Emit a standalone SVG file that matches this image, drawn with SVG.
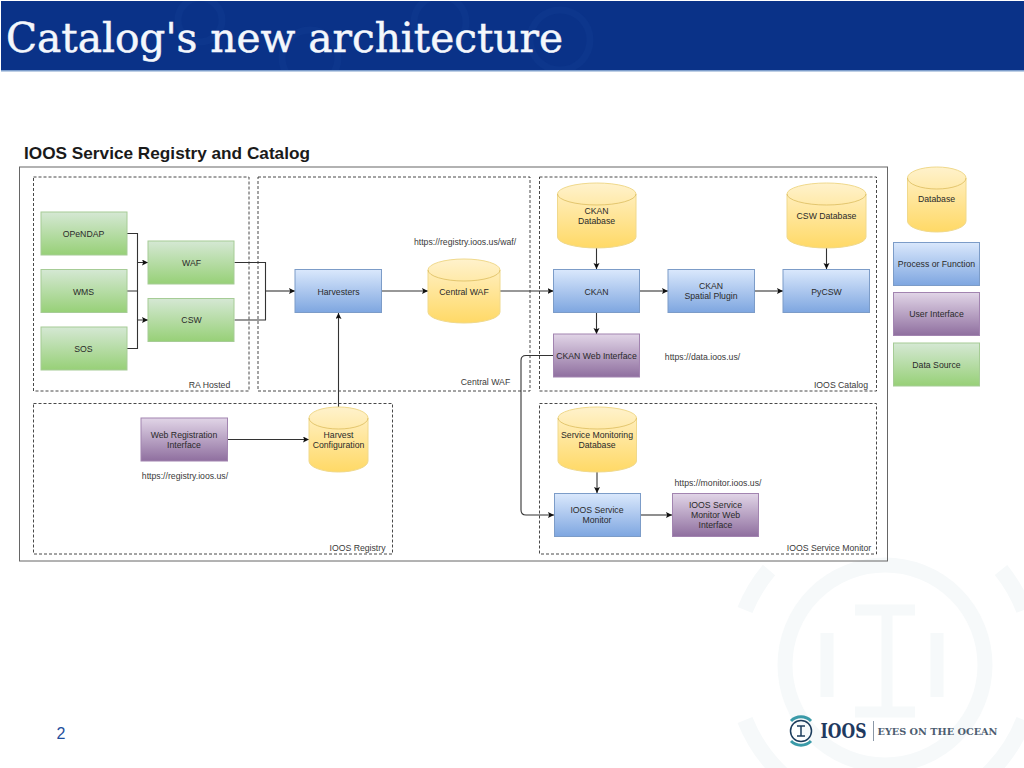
<svg xmlns="http://www.w3.org/2000/svg" width="1024" height="768" viewBox="0 0 1024 768">
<style>
text{font-family:"Liberation Sans",Arial,sans-serif;font-size:8.7px;fill:#2a2a2a;text-anchor:middle}
.lab{fill:#3a3a3a}
.g{fill:url(#gg);stroke:#a6cc96;stroke-width:1}
.b{fill:url(#gb);stroke:#7c9cc8;stroke-width:1}
.p{fill:url(#gp);stroke:#a284b0;stroke-width:1}
.y{fill:url(#gy);stroke:#f0d98c;stroke-width:1}
.yt{fill:none;stroke:#dcbc5e;stroke-width:.8}
.zone{fill:none;stroke:#333;stroke-width:.9;stroke-dasharray:3 2}
.c{fill:none;stroke:#333;stroke-width:1.1}
.a{marker-end:url(#ah)}
</style>
<defs>
<linearGradient id="gg" x1="0" y1="0" x2="0" y2="1"><stop offset="0" stop-color="#d5e8d4"/><stop offset="1" stop-color="#97d077"/></linearGradient>
<linearGradient id="gb" x1="0" y1="0" x2="0" y2="1"><stop offset="0" stop-color="#dae8fc"/><stop offset="1" stop-color="#7ea6e0"/></linearGradient>
<linearGradient id="gp" x1="0" y1="0" x2="0" y2="1"><stop offset="0" stop-color="#e1d5e7"/><stop offset="1" stop-color="#8f6f9f"/></linearGradient>
<linearGradient id="gy" x1="0" y1="0" x2="0" y2="1"><stop offset="0" stop-color="#fff2cc"/><stop offset="1" stop-color="#ffd966"/></linearGradient>
<clipPath id="hc"><rect x="1" y="1" width="1023" height="69"/></clipPath>
<marker id="ah" markerWidth="7" markerHeight="7" refX="6" refY="3" orient="auto" markerUnits="userSpaceOnUse"><path d="M0 0L6 3L0 6L1.2 3Z" fill="#111"/></marker>
</defs>
<rect width="1024" height="768" fill="#fff"/>
<g id="watermark" fill="none" stroke="#f6f9fa">
<circle cx="885" cy="665" r="100" stroke-width="15"/>
<path d="M855 610H915M887 610V712M855 712H915" stroke-width="11"/>
<path d="M827 633V697M937 633V697" stroke-width="13"/>
<path d="M745 610A150 150 0 0 1 769 570M1001 570A150 150 0 0 1 1024 610M745 720A150 150 0 0 0 790 781M1024 720A150 150 0 0 1 980 781" stroke-width="16"/>
</g>
<g id="header">
<rect x="1" y="1" width="1023" height="69" fill="#0a3288"/>
<g fill="none" stroke="#0d368c" stroke-width="7" clip-path="url(#hc)">
<circle cx="200" cy="20" r="22"/><circle cx="310" cy="58" r="28"/><circle cx="440" cy="22" r="26"/><circle cx="560" cy="40" r="30"/>
</g>
<rect x="1" y="70" width="1023" height="1.5" fill="#7f9fcc"/>
<text x="6" y="52" style="font-family:'DejaVu Serif','Liberation Serif',serif;font-size:40.5px;fill:#f4f7fc;stroke:#f4f7fc;stroke-width:.5;text-anchor:start" textLength="557" lengthAdjust="spacingAndGlyphs">Catalog's new architecture</text>
</g>
<text x="24" y="159" style="font-size:16.4px;font-weight:bold;fill:#1a1a1a;text-anchor:start" textLength="286" lengthAdjust="spacingAndGlyphs">IOOS Service Registry and Catalog</text>
<g id="zones">
<rect x="19.500" y="167" width="868" height="394" fill="none" stroke="#666" stroke-width="1"/>
<rect class="zone" x="33.500" y="177" width="215.500" height="214"/>
<rect class="zone" x="258" y="177" width="272" height="214"/>
<rect class="zone" x="539.500" y="177" width="337" height="214"/>
<rect class="zone" x="33.500" y="403.500" width="359" height="150.500"/>
<rect class="zone" x="539.500" y="403.500" width="337" height="150.500"/>
<text class="lab" x="209.500" y="388">RA Hosted</text>
<text class="lab" x="485.500" y="385">Central WAF</text>
<text class="lab" x="841" y="388">IOOS Catalog</text>
<text class="lab" x="357.500" y="551">IOOS Registry</text>
<text class="lab" x="829" y="550.500">IOOS Service Monitor</text>
<text class="lab" x="465" y="245">https://registry.ioos.us/waf/</text>
<text class="lab" x="702.500" y="360">https://data.ioos.us/</text>
<text class="lab" x="185" y="479">https://registry.ioos.us/</text>
<text class="lab" x="718" y="486">https://monitor.ioos.us/</text>
</g>
<g id="connectors">
<path class="c" d="M127 233.500H137.500V262.500"/>
<path class="c a" d="M127 291H137.500V262.500H148"/>
<path class="c a" d="M127 348.500H137.500V320H148"/>
<path class="c" d="M137.500 291V320"/>
<path class="c" d="M234.500 262.500H265.500V320H234.500"/>
<path class="c a" d="M265.500 291H295"/>
<path class="c a" d="M382 291H428"/>
<path class="c a" d="M500 291H553.500"/>
<path class="c a" d="M596.500 248V269"/>
<path class="c a" d="M639.500 291H668"/>
<path class="c a" d="M754.500 291H783"/>
<path class="c a" d="M826.500 248V269"/>
<path class="c a" d="M596.500 312.500V334"/>
<path class="c a" d="M338.500 407V313"/>
<path class="c a" d="M228 439.500H309"/>
<path class="c a" d="M597 472V493"/>
<path class="c a" d="M640.500 515H672"/>
<path class="c a" d="M553.500 355.500H526Q521 355.500 521 360.500V510Q521 515 526 515H554"/>
</g>
<g id="opendap"><rect class="g" x="41" y="212" width="86" height="43"/><text x="83.500" y="237">OPeNDAP</text></g>
<g id="wms"><rect class="g" x="41" y="269.500" width="86" height="43"/><text x="83.500" y="294.500">WMS</text></g>
<g id="sos"><rect class="g" x="41" y="327" width="86" height="43"/><text x="83.500" y="352">SOS</text></g>
<g id="waf"><rect class="g" x="148" y="241" width="86" height="43"/><text x="191.500" y="265.500">WAF</text></g>
<g id="csw"><rect class="g" x="148" y="298.500" width="86" height="43"/><text x="191.500" y="323">CSW</text></g>
<g id="harvesters"><rect class="b" x="295" y="269.500" width="86.500" height="43"/><text x="338.500" y="294.500">Harvesters</text></g>
<g id="central-waf"><path class="y" d="M428 270A36 11 0 0 1 500 270V312A36 11 0 0 1 428 312Z"/><path class="yt" d="M428 270A36 11 0 0 0 500 270"/><text x="464" y="294.500">Central WAF</text></g>
<g id="ckan-db"><path class="y" d="M557.500 194A39.250 11 0 0 1 636 194V237A39.250 11 0 0 1 557.500 237Z"/><path class="yt" d="M557.500 194A39.250 11 0 0 0 636 194"/><text x="596.500" y="214">CKAN</text><text x="596.500" y="224">Database</text></g>
<g id="csw-db"><path class="y" d="M787 194A39.500 11 0 0 1 866 194V237A39.500 11 0 0 1 787 237Z"/><path class="yt" d="M787 194A39.500 11 0 0 0 866 194"/><text x="826.500" y="219">CSW Database</text></g>
<g id="ckan"><rect class="b" x="553.500" y="269.500" width="86" height="43"/><text x="596.500" y="294.500">CKAN</text></g>
<g id="spatial"><rect class="b" x="668" y="269.500" width="86.500" height="43"/><text x="711" y="289">CKAN</text><text x="711" y="299">Spatial Plugin</text></g>
<g id="pycsw"><rect class="b" x="783" y="269.500" width="86.500" height="43"/><text x="826.500" y="294.500">PyCSW</text></g>
<g id="ckan-web"><rect class="p" x="553.500" y="334" width="86" height="43"/><text x="596.500" y="359">CKAN Web Interface</text></g>
<g id="web-reg"><rect class="p" x="141" y="418" width="86.500" height="43"/><text x="184" y="438">Web Registration</text><text x="184" y="448">Interface</text></g>
<g id="harvest-config"><path class="y" d="M309 418A29.500 11 0 0 1 368 418V461A29.500 11 0 0 1 309 461Z"/><path class="yt" d="M309 418A29.500 11 0 0 0 368 418"/><text x="338.500" y="438">Harvest</text><text x="338.500" y="448">Configuration</text></g>
<g id="monitoring-db"><path class="y" d="M558 418A39.250 11 0 0 1 636.500 418V461A39.250 11 0 0 1 558 461Z"/><path class="yt" d="M558 418A39.250 11 0 0 0 636.500 418"/><text x="597" y="438">Service Monitoring</text><text x="597" y="448">Database</text></g>
<g id="service-monitor"><rect class="b" x="554.500" y="493.500" width="86" height="43"/><text x="597" y="513">IOOS Service</text><text x="597" y="523">Monitor</text></g>
<g id="monitor-web"><rect class="p" x="672.500" y="493.500" width="86" height="43"/><text x="715.500" y="508">IOOS Service</text><text x="715.500" y="518">Monitor Web</text><text x="715.500" y="528">Interface</text></g>
<g id="legend-db"><path class="y" d="M907.500 178A29.250 11 0 0 1 966 178V221A29.250 11 0 0 1 907.500 221Z"/><path class="yt" d="M907.500 178A29.250 11 0 0 0 966 178"/><text x="936.500" y="202">Database</text></g>
<g id="legend-process"><rect class="b" x="893.500" y="242.500" width="86" height="43"/><text x="936.500" y="267">Process or Function</text></g>
<g id="legend-ui"><rect class="p" x="893.500" y="292.500" width="86" height="43"/><text x="936.500" y="317">User Interface</text></g>
<g id="legend-source"><rect class="g" x="893.500" y="343" width="86" height="43"/><text x="936.500" y="367.500">Data Source</text></g>
<text x="61" y="739" style="font-size:16px;fill:#1f4e9c">2</text>
<g id="logo">
<path d="M791 721A14 14 0 0 1 811 721M791 741A14 14 0 0 0 811 741" fill="none" stroke="#3a9aa8" stroke-width="3"/>
<circle cx="801" cy="731" r="10.500" fill="none" stroke="#1c3c5c" stroke-width="1.500"/>
<path d="M797 726H805M801 726V736M797 736H805" fill="none" stroke="#1c3c5c" stroke-width="1.500"/>
<text x="843.500" y="738" style="font-family:'DejaVu Serif','Liberation Serif',serif;font-size:19.500px;font-weight:bold;fill:#1f3a5f" textLength="46" lengthAdjust="spacingAndGlyphs">IOOS</text>
<rect x="873" y="721" width="1" height="20" fill="#8a97a6"/>
<text x="937.500" y="735" style="font-family:'DejaVu Serif','Liberation Serif',serif;font-size:8.500px;font-weight:bold;fill:#4d5d70" textLength="120" lengthAdjust="spacingAndGlyphs">EYES ON THE OCEAN</text>
</g>
</svg>
